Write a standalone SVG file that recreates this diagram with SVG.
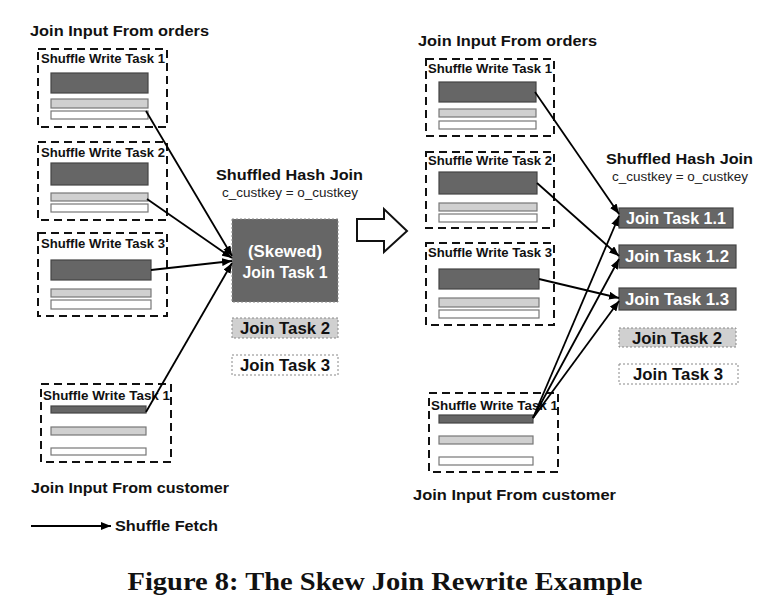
<svg xmlns="http://www.w3.org/2000/svg" width="770" height="606" viewBox="0 0 770 606">
<defs>
<marker id="ah" viewBox="0 0 10 8" refX="10" refY="4" markerWidth="10" markerHeight="8" markerUnits="userSpaceOnUse" orient="auto">
<path d="M0,0 L10,4 L0,8 z" fill="#000"/>
</marker>
</defs>
<style>
.t{font-family:"Liberation Sans",Arial,sans-serif;font-weight:bold;fill:#111}
.h{font-size:15.5px}
.lbl{font-size:13px}
.eq{font-family:"Liberation Sans",Arial,sans-serif;font-size:12.5px;fill:#222}
.grp{fill:#fff;stroke:#111;stroke-width:2;stroke-dasharray:8,5}
.dk{fill:#666;stroke:#444;stroke-width:1.2}
.lg{fill:#d0d0d0;stroke:#777;stroke-width:1.2}
.wh{fill:#fff;stroke:#777;stroke-width:1.2}
.jt{font-size:16.5px;text-anchor:middle}
.w{fill:#fff}
.dot{stroke:#888;stroke-width:1;stroke-dasharray:2,2}
.con line{stroke:#000;stroke-width:1.8;marker-end:url(#ah)}
</style>
<rect width="770" height="606" fill="#fff"/>

<!-- Left side -->
<text class="t h" x="30" y="36" textLength="179" lengthAdjust="spacingAndGlyphs">Join Input From orders</text>
<g id="L_SW1">
<rect class="grp" x="38" y="49" width="129" height="78"/>
<text class="t lbl" x="41" y="63" textLength="124" lengthAdjust="spacingAndGlyphs">Shuffle Write Task 1</text>
<rect class="dk" x="51" y="73" width="97" height="20"/>
<rect class="lg" x="51" y="99" width="97" height="9"/>
<rect class="wh" x="51" y="111" width="97" height="8"/>
</g>
<g id="L_SW2">
<rect class="grp" x="38" y="142" width="129" height="78"/>
<text class="t lbl" x="41" y="157" textLength="124" lengthAdjust="spacingAndGlyphs">Shuffle Write Task 2</text>
<rect class="dk" x="51" y="163" width="97" height="22"/>
<rect class="lg" x="51" y="193" width="97" height="8"/>
<rect class="wh" x="51" y="204" width="97" height="8"/>
</g>
<g id="L_SW3">
<rect class="grp" x="38" y="233" width="129" height="83"/>
<text class="t lbl" x="41" y="248" textLength="124" lengthAdjust="spacingAndGlyphs">Shuffle Write Task 3</text>
<rect class="dk" x="51" y="260" width="100" height="20"/>
<rect class="lg" x="51" y="289" width="100" height="8"/>
<rect class="wh" x="51" y="300" width="100" height="9"/>
</g>
<g id="L_CUST">
<rect class="grp" x="41" y="384" width="130" height="78"/>
<text class="t lbl" x="43" y="400" textLength="127" lengthAdjust="spacingAndGlyphs">Shuffle Write Task  1</text>
<rect class="dk" x="51" y="406" width="95" height="7"/>
<rect class="lg" x="51" y="427" width="95" height="8"/>
<rect class="wh" x="51" y="448" width="95" height="7"/>
</g>
<text class="t h" x="31" y="493" textLength="198" lengthAdjust="spacingAndGlyphs">Join Input From customer</text>

<!-- Left join -->
<text class="t h" x="216" y="180" textLength="147" lengthAdjust="spacingAndGlyphs">Shuffled Hash Join</text>
<text class="eq" x="222" y="197" textLength="136" lengthAdjust="spacingAndGlyphs">c_custkey = o_custkey</text>
<g id="L_JT1">
<rect x="232" y="219" width="106" height="83" fill="#666" class="dot"/>
<text class="t jt w" x="285" y="257" textLength="74" lengthAdjust="spacingAndGlyphs">(Skewed)</text>
<text class="t jt w" x="285" y="278" textLength="85" lengthAdjust="spacingAndGlyphs">Join Task 1</text>
</g>
<g id="L_JT2">
<rect x="232" y="318" width="106" height="20" fill="#d0d0d0" class="dot"/>
<text class="t jt" x="285" y="334" textLength="90" lengthAdjust="spacingAndGlyphs">Join Task 2</text>
</g>
<g id="L_JT3">
<rect x="232" y="355" width="106" height="20" fill="#fff" class="dot"/>
<text class="t jt" x="285" y="371" textLength="90" lengthAdjust="spacingAndGlyphs">Join Task 3</text>
</g>

<!-- Hollow arrow -->
<g id="rewrite_arrow">
<polygon points="357,219 384,219 384,209 407,231 384,252 384,241 357,241" fill="#fff" stroke="#111" stroke-width="2" stroke-linejoin="miter"/>
</g>

<!-- Right side -->
<text class="t h" x="418" y="46" textLength="179" lengthAdjust="spacingAndGlyphs">Join Input From orders</text>
<g id="R_SW1">
<rect class="grp" x="426" y="59" width="128" height="77"/>
<text class="t lbl" x="428" y="73" textLength="124" lengthAdjust="spacingAndGlyphs">Shuffle Write Task 1</text>
<rect class="dk" x="439" y="82" width="97" height="20"/>
<rect class="lg" x="439" y="109" width="97" height="8"/>
<rect class="wh" x="439" y="121" width="97" height="8"/>
</g>
<g id="R_SW2">
<rect class="grp" x="426" y="152" width="128" height="76"/>
<text class="t lbl" x="428" y="165" textLength="124" lengthAdjust="spacingAndGlyphs">Shuffle Write Task 2</text>
<rect class="dk" x="439" y="172" width="98" height="22"/>
<rect class="lg" x="439" y="203" width="98" height="8"/>
<rect class="wh" x="439" y="214" width="98" height="8"/>
</g>
<g id="R_SW3">
<rect class="grp" x="426" y="243" width="128" height="82"/>
<text class="t lbl" x="428" y="257" textLength="124" lengthAdjust="spacingAndGlyphs">Shuffle Write Task 3</text>
<rect class="dk" x="439" y="269" width="100" height="20"/>
<rect class="lg" x="439" y="298" width="100" height="9"/>
<rect class="wh" x="439" y="310" width="100" height="8"/>
</g>
<g id="R_CUST">
<rect class="grp" x="429" y="393" width="129" height="79"/>
<text class="t lbl" x="431" y="410" textLength="127" lengthAdjust="spacingAndGlyphs">Shuffle Write Task  1</text>
<rect class="dk" x="439" y="415" width="94" height="8"/>
<rect class="lg" x="439" y="436" width="94" height="8"/>
<rect class="wh" x="439" y="457" width="94" height="8"/>
</g>
<text class="t h" x="413" y="500" textLength="203" lengthAdjust="spacingAndGlyphs">Join Input From customer</text>

<!-- Right join -->
<text class="t h" x="606" y="164" textLength="147" lengthAdjust="spacingAndGlyphs">Shuffled Hash Join</text>
<text class="eq" x="612" y="181" textLength="136" lengthAdjust="spacingAndGlyphs">c_custkey = o_custkey</text>
<g id="R_JT11">
<rect class="dk" x="619" y="208" width="114" height="20"/>
<text class="t jt w" x="676" y="224" textLength="100" lengthAdjust="spacingAndGlyphs">Join Task 1.1</text>
</g>
<g id="R_JT12">
<rect class="dk" x="619" y="245" width="117" height="23"/>
<text class="t jt w" x="677" y="262" textLength="104" lengthAdjust="spacingAndGlyphs">Join Task 1.2</text>
</g>
<g id="R_JT13">
<rect class="dk" x="619" y="288" width="117" height="22"/>
<text class="t jt w" x="677" y="305" textLength="104" lengthAdjust="spacingAndGlyphs">Join Task 1.3</text>
</g>
<g id="R_JT2">
<rect x="619" y="328" width="117" height="19" fill="#d0d0d0" class="dot"/>
<text class="t jt" x="677" y="344" textLength="90" lengthAdjust="spacingAndGlyphs">Join Task 2</text>
</g>
<g id="R_JT3">
<rect x="619" y="364" width="119" height="20" fill="#fff" class="dot"/>
<text class="t jt" x="678" y="380" textLength="90" lengthAdjust="spacingAndGlyphs">Join Task 3</text>
</g>

<!-- Connectors -->
<g id="connectors" class="con">
<line x1="146" y1="111" x2="232" y2="256"/>
<line x1="147" y1="199" x2="232" y2="258"/>
<line x1="151" y1="270" x2="232" y2="261"/>
<line x1="146" y1="412" x2="232" y2="263"/>
<line x1="535" y1="92" x2="619" y2="214"/>
<line x1="537" y1="183" x2="619" y2="256"/>
<line x1="539" y1="279" x2="619" y2="298"/>
<line x1="533" y1="418" x2="619" y2="216"/>
<line x1="533" y1="418" x2="619" y2="259"/>
<line x1="533" y1="418" x2="619" y2="301"/>
<line x1="31" y1="526" x2="111" y2="526"/>
</g>
<text class="t h" x="115" y="531" textLength="103" lengthAdjust="spacingAndGlyphs">Shuffle Fetch</text>

<text x="385" y="590" text-anchor="middle" font-family="'Liberation Serif','Times New Roman',serif" font-weight="bold" font-size="25" fill="#111" textLength="515" lengthAdjust="spacingAndGlyphs">Figure 8: The Skew Join Rewrite Example</text>
</svg>
